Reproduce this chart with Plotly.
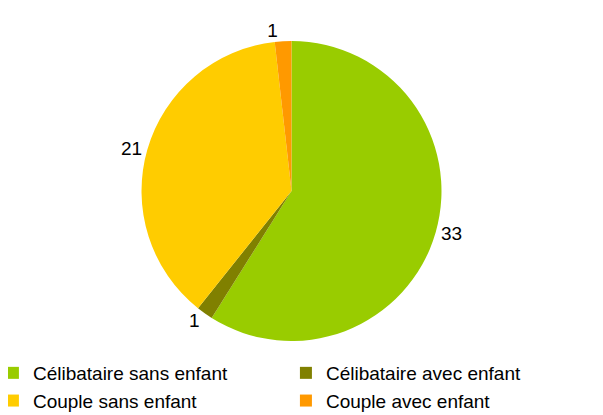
import plotly.graph_objects as go

labels = ["Célibataire sans enfant", "Célibataire avec enfant", "Couple sans enfant", "Couple avec enfant"]
values = [33, 1, 21, 1]
colors = ["#99cc00", "#808000", "#ffcc00", "#ff9900"]

fig = go.Figure(go.Pie(
    labels=labels,
    values=values,
    sort=False,
    direction="clockwise",
    rotation=0,
    marker=dict(colors=colors, line=dict(width=0)),
    textinfo="value",
    textposition="outside",
    textfont=dict(family="Liberation Sans, Arial, sans-serif", size=19, color="#000000"),
    domain=dict(x=[0.2214, 0.7189], y=[0.0376, 0.9046]),
    hoverinfo="label+value",
))

fig.update_layout(
    width=603, height=415,
    margin=dict(l=0, r=0, t=0, b=69, autoexpand=False),
    paper_bgcolor="white",
    plot_bgcolor="white",
    font=dict(family="Liberation Sans, Arial, sans-serif", size=19, color="#000000"),
    showlegend=True,
    legend=dict(
        orientation="h",
        x=-0.025, xanchor="left",
        y=0, yanchor="top",
        entrywidth=248, entrywidthmode="pixels",
        traceorder="normal",
        font=dict(size=19),
        itemclick=False,
        bgcolor="rgba(0,0,0,0)",
    ),
)

fig.write_html("out.html")
